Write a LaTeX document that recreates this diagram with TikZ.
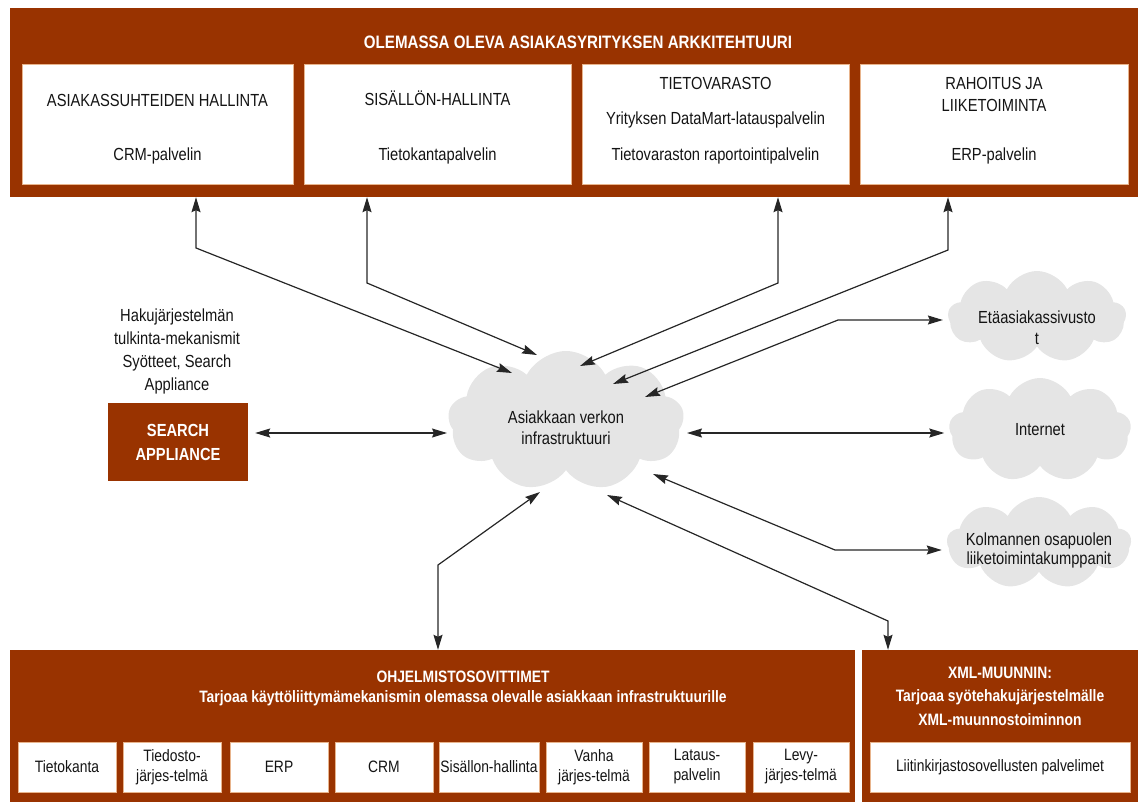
\documentclass[tikz,border=0pt]{standalone}
\usepackage{fontspec}
\setmainfont[FakeStretch=0.84]{Liberation Sans}
\usetikzlibrary{shapes.symbols,calc,arrows.meta}

\definecolor{rust}{RGB}{153,51,0}
\definecolor{puffgray}{RGB}{229,229,229}
\definecolor{celledge}{RGB}{232,180,140}

\begin{document}
\begin{tikzpicture}[x=1pt,y=-1pt,
  panel/.style={rectangle, fill=rust, draw=none, inner sep=0pt},
  cell/.style={rectangle, fill=white, draw=celledge, line width=0.8pt, inner sep=0pt},
  txt/.style={font=\fontsize{17.5}{21}\selectfont, text=black!92, inner sep=0pt, align=center},
  head/.style={font=\bfseries\fontsize{18}{22}\selectfont, text=white, inner sep=0pt, align=center},
  subhead/.style={font=\bfseries\fontsize{16.5}{23}\selectfont, text=white, inner sep=0pt, align=center},
  puff/.style={cloud, cloud puffs=9, cloud puff arc=125, fill=puffgray, draw=none, inner sep=0pt},
  conn/.style={draw=black!85, line width=1.2pt, {Stealth[length=15pt,width=9pt,inset=2pt]}-{Stealth[length=15pt,width=9pt,inset=2pt]}}
]
\useasboundingbox (0,0) rectangle (1147,802);

% ---- existing enterprise architecture (top panel) ----
\node[panel, minimum width=1128, minimum height=189] (top) at (574,102.5) {};
\node[head] (toptitle) at (578,42) {OLEMASSA OLEVA ASIAKASYRITYKSEN ARKKITEHTUURI};

\node[cell, minimum width=271, minimum height=120] (b1) at (157.5,124) {};
\node[cell, minimum width=267, minimum height=120] (b2) at (437.5,124) {};
\node[cell, minimum width=267, minimum height=120] (b3) at (715.5,124) {};
\node[cell, minimum width=268, minimum height=120] (b4) at (994,124) {};

\node[txt] (b1a) at ($(b1.north)+(0,37)$) {ASIAKASSUHTEIDEN HALLINTA};
\node[txt] (b1b) at ($(b1.north)+(0,92)$) {CRM-palvelin};
\node[txt] (b2a) at ($(b2.north)+(0,35)$) {SISÄLLÖN-HALLINTA};
\node[txt] (b2b) at ($(b2.north)+(0,92)$) {Tietokantapalvelin};
\node[txt] (b3a) at ($(b3.north)+(0,20)$) {TIETOVARASTO};
\node[txt] (b3b) at ($(b3.north)+(0,56)$) {Yrityksen DataMart-latauspalvelin};
\node[txt] (b3c) at ($(b3.north)+(0,92)$) {Tietovaraston raportointipalvelin};
\node[txt] (b4a) at ($(b4.north)+(0,20)$) {RAHOITUS JA};
\node[txt] (b4b) at ($(b4.north)+(0,42)$) {LIIKETOIMINTA};
\node[txt] (b4c) at ($(b4.north)+(0,92)$) {ERP-palvelin};

% ---- network clouds ----
\node[puff, minimum width=236, minimum height=140] (net) at (566,421) {};
\node[txt] (netlbl) at (566,428) {Asiakkaan verkon\\infrastruktuuri};

\node[puff, minimum width=178, minimum height=92] (eta) at (1037,317) {};
\node[txt] (etalbl) at (1037,328) {Etäasiakassivusto\\t};
\node[puff, minimum width=182, minimum height=104] (inet) at (1040,430) {};
\node[txt] (inetlbl) at (1040,430) {Internet};
\node[puff, minimum width=184, minimum height=92] (kolm) at (1039,543) {};
\node[txt, font=\fontsize{17.5}{19}\selectfont] (kolmlbl) at (1039,550) {Kolmannen osapuolen\\liiketoimintakumppanit};

% ---- search appliance ----
\node[panel, minimum width=140, minimum height=78] (sa) at (178,442) {};
\node[head, font=\bfseries\fontsize{17.5}{24}\selectfont] (salbl) at (178,442) {SEARCH\\APPLIANCE};
\node[txt, font=\fontsize{17.5}{23}\selectfont] (sanote) at (177,351) {Hakujärjestelmän\\tulkinta-mekanismit\\Syötteet, Search\\Appliance};

% ---- software adapters (bottom left panel) ----
\node[panel, minimum width=845, minimum height=152] (soft) at (432.5,726) {};
\node[subhead] (softa) at (463,677) {OHJELMISTOSOVITTIMET};
\node[subhead] (softb) at (463,698) {Tarjoaa käyttöliittymämekanismin olemassa olevalle asiakkaan infrastruktuurille};

\foreach \n/\cx/\w/\lbl in {
    s1/67/98/Tietokanta,
    s2/172/98/{Tiedosto-\\järjes-telmä},
    s3/279/98/ERP,
    s4/384/98/CRM,
    s5/489/100/Sisällon-hallinta,
    s6/594/96/{Vanha\\järjes-telmä},
    s7/697/96/{Lataus-\\palvelin},
    s8/801/96/{Levy-\\järjes-telmä}} {
  \node[cell, minimum width=\w, minimum height=50] (\n) at (\cx,767) {};
  \node[txt, font=\fontsize{16.5}{20}\selectfont] (\n t) at (\n) {\lbl};
}

% ---- XML converter (bottom right panel) ----
\node[panel, minimum width=276, minimum height=152] (xml) at (1000,726) {};
\node[subhead] (xmla) at (1000,673) {XML-MUUNNIN:};
\node[subhead] (xmlb) at (1000,697) {Tarjoaa syötehakujärjestelmälle};
\node[subhead] (xmlc) at (1000,720) {XML-muunnostoiminnon};
\node[cell, minimum width=260, minimum height=50] (xcell) at (1000,767) {};
\node[txt, font=\fontsize{16.5}{20}\selectfont] (xcellt) at (xcell) {Liitinkirjastosovellusten palvelimet};

% ---- connectors ----
\coordinate (k1) at (196,248);
\coordinate (k2) at (367,283);
\coordinate (k3) at (778,283);
\coordinate (k4) at (948,250);
\draw[conn] (k1 |- top.south) -- (k1) -- ($(net)+(-54,-48)$);
\draw[conn] (k2 |- top.south) -- (k2) -- ($(net)+(-29,-66)$);
\draw[conn] (k3 |- top.south) -- (k3) -- ($(net)+(14,-55)$);
\draw[conn] (k4 |- top.south) -- (k4) -- ($(net)+(47,-37)$);

\coordinate (sp) at ($(net)+(-119,12)$);
\draw[conn, shorten >=7pt] (sp) -- (sp -| sa.east);

\coordinate (ip) at ($(net)+(121,12)$);
\draw[conn, shorten >=5pt] (ip) -- (ip -| inet.west);

\coordinate (eb) at (838,320);
\draw[conn, shorten >=5pt] ($(net)+(79,-24)$) -- (eb) -- (eb -| eta.west);

\coordinate (kb) at (835,550);
\draw[conn, shorten >=5pt] ($(net)+(87,53)$) -- (kb) -- (kb -| kolm.west);

\coordinate (bb) at (438,565);
\draw[conn] ($(net)+(-26,71)$) -- (bb) -- (bb |- soft.north);

\coordinate (xb) at (888,621);
\draw[conn] ($(net)+(41,74)$) -- (xb) -- (xb |- xml.north);
\end{tikzpicture}
\end{document}
